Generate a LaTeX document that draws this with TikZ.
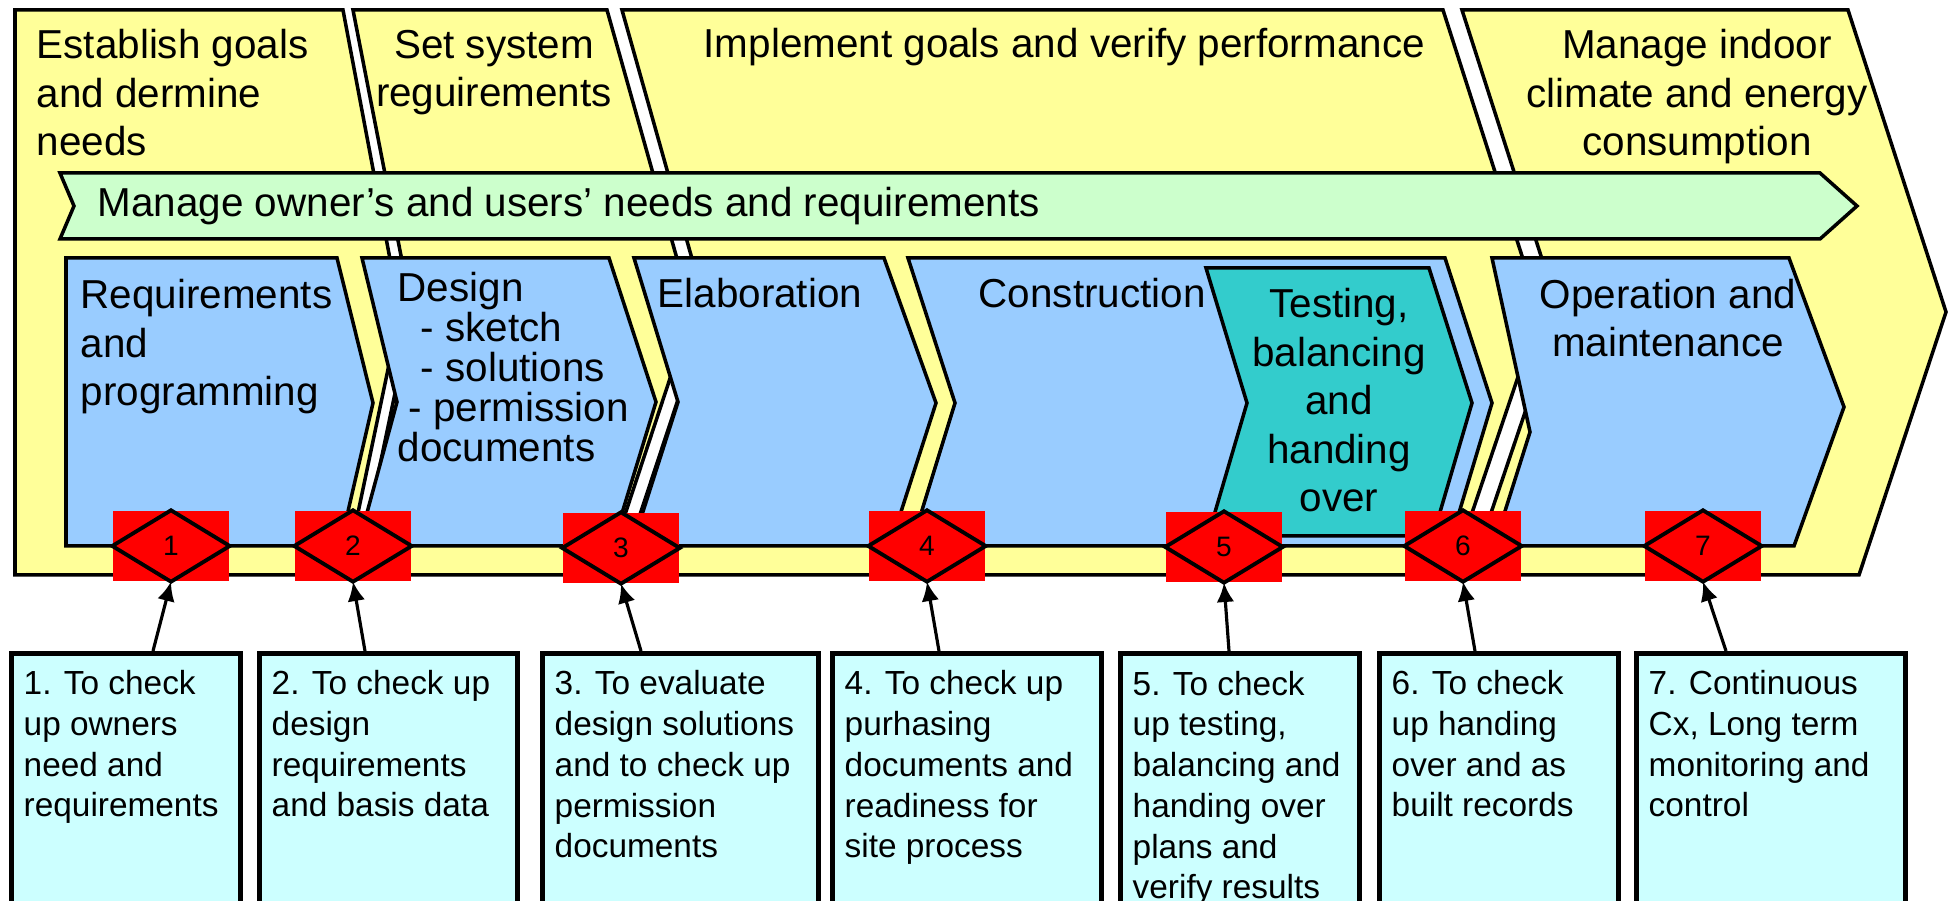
\documentclass[tikz,border=0pt]{standalone}
\usepackage{fontspec}
\setmainfont{Liberation Sans}
\usetikzlibrary{arrows.meta}
\definecolor{cyel}{HTML}{FFFF99}
\definecolor{cgrn}{HTML}{CCFFCC}
\definecolor{cblu}{HTML}{99CCFF}
\definecolor{ctea}{HTML}{33CCCC}
\definecolor{ccya}{HTML}{CCFFFF}
\newcommand\fbig{\fontsize{11.5}{13.9}\selectfont}
\newcommand\fsml{\fontsize{9.5}{11.6}\selectfont}
\begin{document}
\begin{tikzpicture}[x=0.1mm,y=-0.1mm,
  bigchev/.style={fill=cyel,draw=black,line width=1pt},
  band/.style={fill=cgrn,draw=black,line width=1pt},
  phase/.style={fill=cblu,draw=black,line width=1pt},
  tphase/.style={fill=ctea,draw=black,line width=1pt},
  lbl/.style={inner sep=0pt,font=\fbig,align=left,anchor=base west},
  clbl/.style={inner sep=0pt,font=\fbig,align=center,anchor=base},
  chk/.style={fill=red,inner sep=0pt,minimum width=11.6mm,minimum height=7mm,font=\fontsize{8}{9}\selectfont},
  dia/.style={draw=black,line width=1.1pt},
  cbox/.style={fill=ccya,draw=black,line width=1.3pt,inner sep=0pt,minimum height=28mm,anchor=north west},
  btxt/.style={inner sep=0pt,font=\fsml,align=left,anchor=base west},
  arr/.style={line width=0.9pt,-{Latex[length=5.5pt,width=5pt]}}]
\useasboundingbox (0,0) rectangle (1952,901);
\clip (0,0) rectangle (1952,901);
% outer chevrons
\draw[bigchev] (15,10) -- (343,10) -- (400,312) -- (345,575) -- (15,575) -- cycle;
\draw[bigchev] (353,10) -- (607,10) -- (692,312) -- (605,575) -- (357,575) -- (412,312) -- cycle;
\draw[bigchev] (622,10) -- (1443,10) -- (1540,312) -- (1451,575) -- (620,575) -- (707,312) -- cycle;
\draw[bigchev] (1462,10) -- (1848,10) -- (1946,312) -- (1859,575) -- (1470,575) -- (1559,312) -- cycle;
% green band
\draw[band] (60,173) -- (1820,173) -- (1857,206) -- (1820,239) -- (60,239) -- (74,206) -- cycle;
% phases
\draw[phase] (66,258) -- (337,258) -- (373,403) -- (340,546) -- (66,546) -- cycle;
\draw[phase] (362,258) -- (609,258) -- (656,402) -- (612,546) -- (358,546) -- (397,402) -- cycle;
\draw[phase] (634,258) -- (884,258) -- (936,403) -- (890,546) -- (632,546) -- (678,402) -- cycle;
\draw[phase] (908,258) -- (1445,258) -- (1492,403) -- (1449,546) -- (911,546) -- (955,403) -- cycle;
\draw[tphase] (1206,268) -- (1429,268) -- (1472,403) -- (1433,536) -- (1208,536) -- (1247,403) -- cycle;
\draw[phase] (1492,258) -- (1789,258) -- (1844,407) -- (1794,546) -- (1494,546) -- (1530,432) -- cycle;
% top texts (base anchor = baseline of last line)
\node[lbl] (t1) at (36,156) {Establish goals\\and dermine\\needs};
\node[clbl] (t2) at (494,107) {Set system\\reguirements};
\node[lbl] (t3) at (703,58) {Implement goals and verify performance};
\node[clbl] (t4) at (1697,156) {Manage indoor\\climate and energy\\consumption};
\node[lbl] (gt) at (97,217) {Manage owner’s and users’ needs and requirements};
% phase texts
\node[lbl] (p1) at (80,406) {Requirements\\and\\programming};
\node[lbl,font=\fontsize{11.5}{11.4}\selectfont] (p2) at (397,462) {Design\\\hspace*{2.3mm}- sketch\\\hspace*{2.3mm}- solutions\\\hspace*{1.1mm}- permission\\documents};
\node[lbl] (p3) at (657,308) {Elaboration};
\node[lbl] (p4) at (978,308) {Construction};
\node[clbl,font=\fontsize{11.5}{13.8}\selectfont] (p5) at (1339,512) {Testing,\\balancing\\and\\handing\\over};
\node[clbl] (p6) at (1668,357) {Operation and\\maintenance};
% checkpoints
\foreach \n/\x/\y in {1/171/546,2/353/546,3/621/548,4/927/546,5/1224/547,6/1463/546,7/1703/546}{
  \node[chk] (d\n) at (\x,\y) {\n};
  \draw[dia] (d\n.west) -- (d\n.north) -- (d\n.east) -- (d\n.south) -- cycle;
}
% boxes
\node[cbox,minimum width=22.9mm] (b1) at (9,651) {};
\node[cbox,minimum width=25.8mm] (b2) at (257,651) {};
\node[cbox,minimum width=27.6mm] (b3) at (540,651) {};
\node[cbox,minimum width=26.9mm] (b4) at (830,651) {};
\node[cbox,minimum width=23.9mm] (b5) at (1118,651) {};
\node[cbox,minimum width=23.9mm] (b6) at (1377,651) {};
\node[cbox,minimum width=26.9mm] (b7) at (1634,651) {};
\node[btxt] (x1) at (23,817) {1. To check\\up owners\\need and\\requirements};
\node[btxt] (x2) at (271,817) {2. To check up\\design\\requirements\\and basis data};
\node[btxt] (x3) at (554,858) {3. To evaluate\\design solutions\\and to check up\\permission\\documents};
\node[btxt] (x4) at (844,858) {4. To check up\\purhasing\\documents and\\readiness for\\site process};
\node[btxt] (x5) at (1132,899) {5. To check\\up testing,\\balancing and\\handing over\\plans and\\verify results};
\node[btxt] (x6) at (1391,817) {6. To check\\up handing\\over and as\\built records};
\node[btxt] (x7) at (1648,817) {7. Continuous\\Cx, Long term\\monitoring and\\control};
% arrows
\draw[arr] ([xshift=14.4mm]b1.north west) -- (d1.south);
\draw[arr] ([xshift=10.8mm]b2.north west) -- (d2.south);
\draw[arr] ([xshift=10.1mm]b3.north west) -- (d3.south);
\draw[arr] ([xshift=10.9mm]b4.north west) -- (d4.south);
\draw[arr] ([xshift=11.1mm]b5.north west) -- (d5.south);
\draw[arr] ([xshift=9.8mm]b6.north west) -- (d6.south);
\draw[arr] ([xshift=9.2mm]b7.north west) -- (d7.south);
\end{tikzpicture}
\end{document}
